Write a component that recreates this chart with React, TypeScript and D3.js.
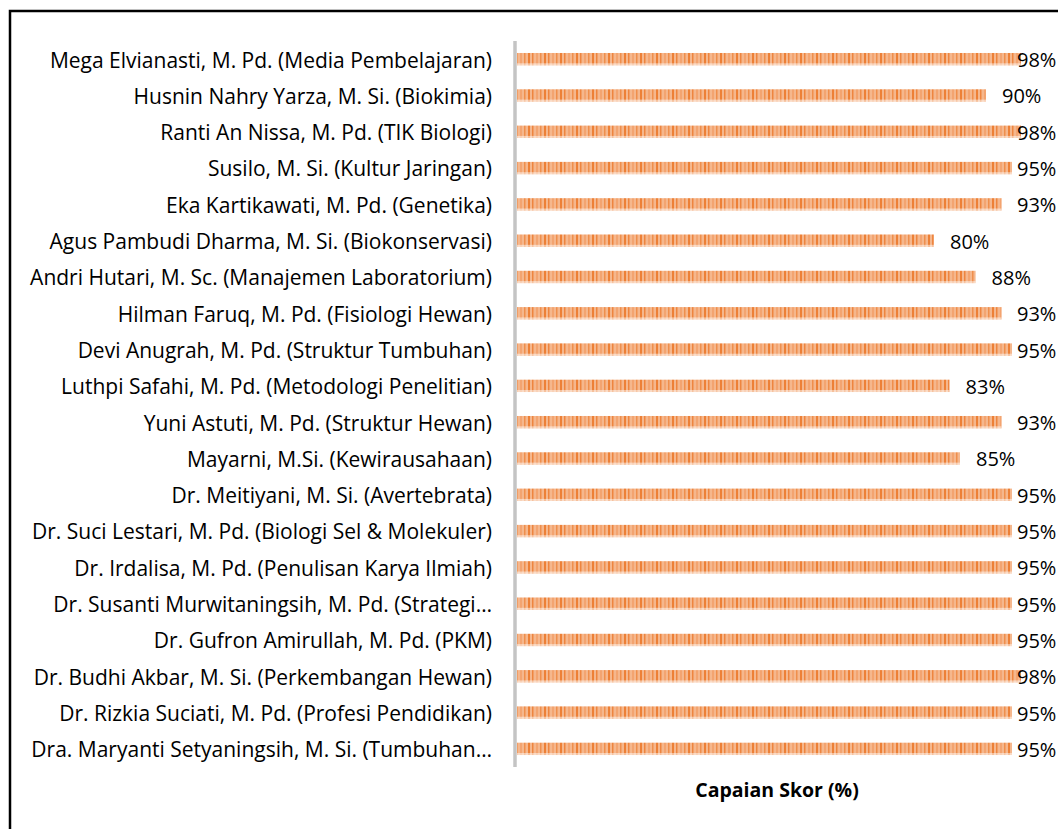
import { useEffect, useRef } from "react";
import * as d3 from "d3";

// data
const lecturers = [
  "Mega Elvianasti, M. Pd. (Media Pembelajaran)",
  "Husnin Nahry Yarza, M. Si. (Biokimia)",
  "Ranti An Nissa, M. Pd. (TIK Biologi)",
  "Susilo, M. Si. (Kultur Jaringan)",
  "Eka Kartikawati, M. Pd. (Genetika)",
  "Agus Pambudi Dharma, M. Si. (Biokonservasi)",
  "Andri Hutari, M. Sc. (Manajemen Laboratorium)",
  "Hilman Faruq, M. Pd. (Fisiologi Hewan)",
  "Devi Anugrah, M. Pd. (Struktur Tumbuhan)",
  "Luthpi Safahi, M. Pd. (Metodologi Penelitian)",
  "Yuni Astuti, M. Pd. (Struktur Hewan)",
  "Mayarni, M.Si. (Kewirausahaan)",
  "Dr. Meitiyani, M. Si. (Avertebrata)",
  "Dr. Suci Lestari, M. Pd. (Biologi Sel & Molekuler)",
  "Dr. Irdalisa, M. Pd. (Penulisan Karya Ilmiah)",
  "Dr. Susanti Murwitaningsih, M. Pd. (Strategi…",
  "Dr. Gufron Amirullah, M. Pd. (PKM)",
  "Dr. Budhi Akbar, M. Si. (Perkembangan Hewan)",
  "Dr. Rizkia Suciati, M. Pd. (Profesi Pendidikan)",
  "Dra. Maryanti Setyaningsih, M. Si. (Tumbuhan…",
];
const scores = [98, 90, 98, 95, 93, 80, 88, 93, 95, 83, 93, 85, 95, 95, 95, 95, 95, 98, 95, 95];
const axisTitle = "Capaian Skor (%)";

export default function App() {
  const ref = useRef<SVGSVGElement>(null);

  useEffect(() => {
    const width = 1058;
    const height = 829;
    const svg = d3.select(ref.current).attr("width", width).attr("height", height);
    svg.selectAll("*").remove();

    const font = "'Open Sans', 'Noto Sans', sans-serif";
    const plotLeft = 517;
    const plotRight = 1021;
    const plotTop = 41;
    const plotBottom = 767;

    // stripe pattern for the bars
    const defs = svg.append("defs");
    const pat = defs
      .append("pattern")
      .attr("id", "stripes")
      .attr("patternUnits", "userSpaceOnUse")
      .attr("width", 16)
      .attr("height", 40);
    pat.append("rect").attr("width", 16).attr("height", 40).attr("fill", "#F5B78D");
    const stripes = [
      { x: 0, w: 2, c: "#ED7D31", o: 0.95 },
      { x: 4, w: 1.5, c: "#ED7D31", o: 0.85 },
      { x: 8.5, w: 1, c: "#EF8540", o: 0.75 },
      { x: 12, w: 1.5, c: "#ED7D31", o: 0.7 },
    ];
    stripes.forEach((s) =>
      pat
        .append("rect")
        .attr("x", s.x)
        .attr("width", s.w)
        .attr("height", 40)
        .attr("fill", s.c)
        .attr("opacity", s.o)
    );

    // chart frame
    svg
      .append("rect")
      .attr("x", 10)
      .attr("y", 11)
      .attr("width", 1200)
      .attr("height", 1000)
      .attr("fill", "white")
      .attr("stroke", "#000")
      .attr("stroke-width", 2.5);

    const x = d3.scaleLinear().domain([0, 100]).range([plotLeft + 1, 1038]);
    const y = d3
      .scaleBand<string>()
      .domain(lecturers)
      .range([plotTop, plotBottom])
      .paddingInner(0.66)
      .paddingOuter(0.33);

    const rows = svg
      .append("g")
      .selectAll("g")
      .data(lecturers)
      .join("g")
      .attr("transform", (d) => `translate(0,${y(d)})`);

    const bh = y.bandwidth();
    const barEnd = (i: number) => Math.min(x(scores[i]), plotRight);

    rows
      .append("rect")
      .attr("x", plotLeft)
      .attr("width", (_, i) => barEnd(i) - plotLeft)
      .attr("height", bh)
      .attr("fill", "url(#stripes)");

    // paler lower edge of each bar
    rows
      .append("rect")
      .attr("x", plotLeft)
      .attr("y", bh - 2)
      .attr("width", (_, i) => barEnd(i) - plotLeft)
      .attr("height", 2)
      .attr("fill", "white")
      .attr("opacity", 0.5);

    // category labels
    rows
      .append("text")
      .attr("x", 492)
      .attr("y", bh / 2)
      .attr("dy", "0.4em")
      .attr("text-anchor", "end")
      .attr("font-family", font)
      .attr("font-size", 21)
      .attr("fill", "#000")
      .text((d) => d);

    // value labels (kept inside the chart's right edge)
    rows
      .append("text")
      .attr("x", (_, i) => Math.min(barEnd(i) + 16, 1017))
      .attr("y", bh / 2)
      .attr("dy", "0.4em")
      .attr("font-family", font)
      .attr("font-size", 20)
      .attr("fill", "#000")
      .text((_, i) => `${scores[i]}%`);

    // vertical axis line
    svg
      .append("line")
      .attr("x1", 515)
      .attr("x2", 515)
      .attr("y1", plotTop)
      .attr("y2", plotBottom)
      .attr("stroke", "#C4C4C4")
      .attr("stroke-width", 3.5);

    // axis title
    svg
      .append("text")
      .attr("x", 777)
      .attr("y", 790)
      .attr("dy", "0.36em")
      .attr("text-anchor", "middle")
      .attr("font-family", font)
      .attr("font-weight", "bold")
      .attr("font-size", 19.5)
      .attr("fill", "#000")
      .text(axisTitle);
  }, []);

  return (
    <div style={{ position: "absolute", left: 0, top: 0 }}>
      <svg ref={ref} style={{ display: "block" }}></svg>
    </div>
  );
}
